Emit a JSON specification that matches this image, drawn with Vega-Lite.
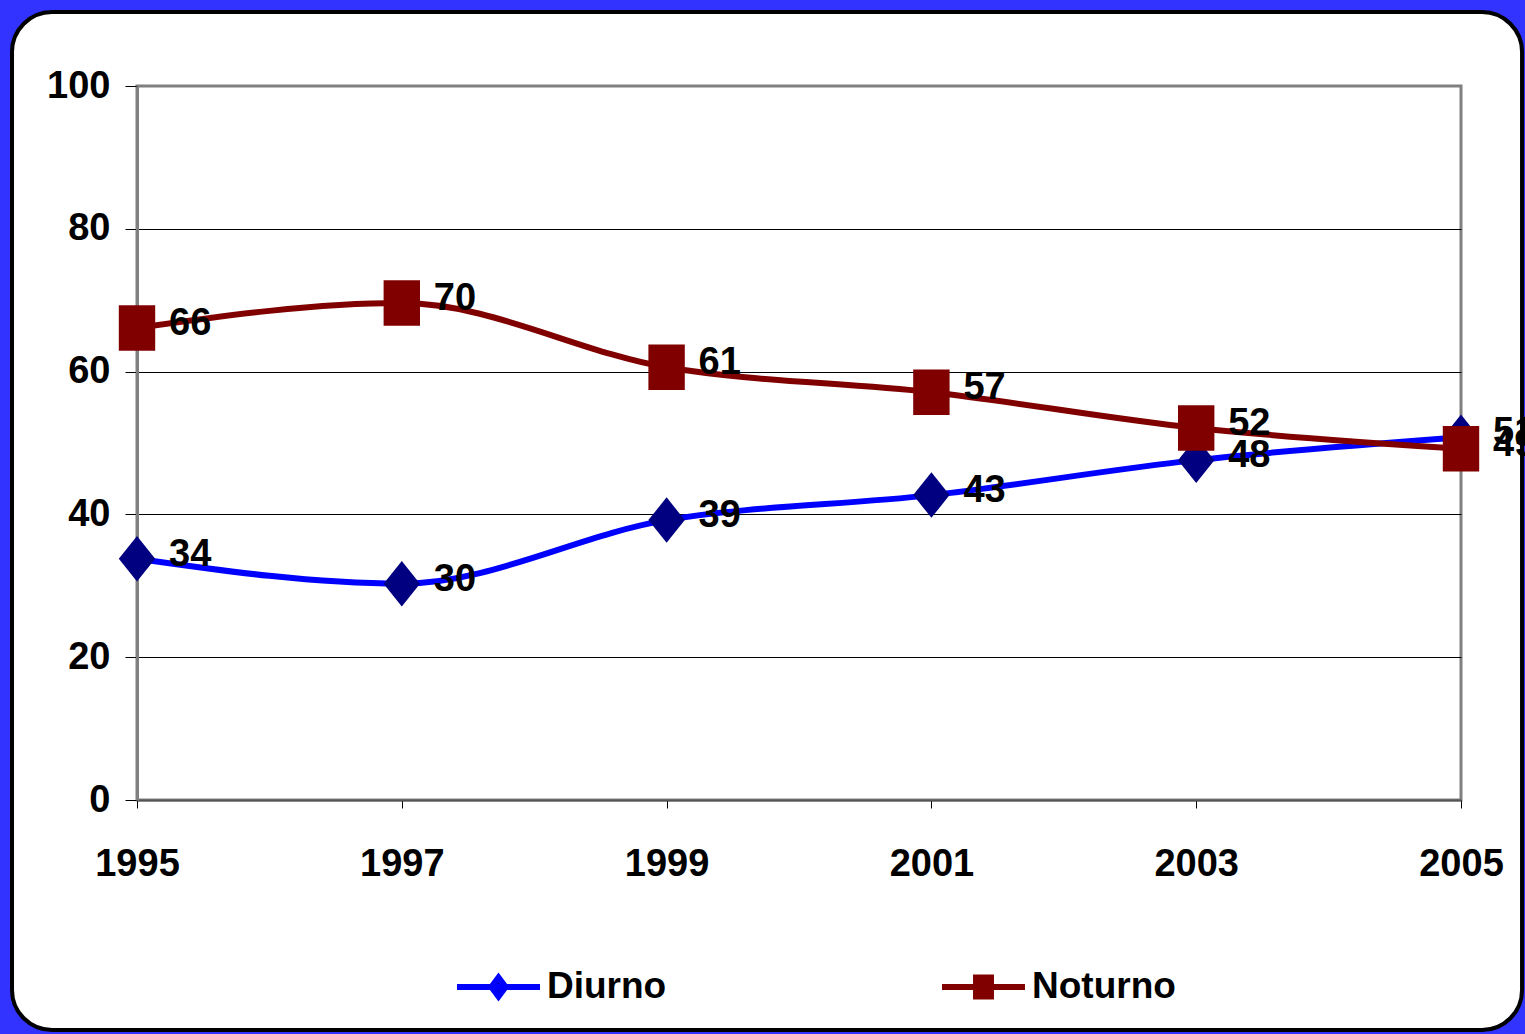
{
  "$schema": "https://vega.github.io/schema/vega-lite/v6.json",
  "width": 1324,
  "height": 714,
  "autosize": {"type": "none"},
  "padding": {"left": 137, "top": 86, "right": 64, "bottom": 234},
  "background": "white",
  "config": {
    "font": "Liberation Sans",
    "view": {"stroke": "#808080", "strokeWidth": 3},
    "axis": {
      "labelFont": "Liberation Sans",
      "labelFontSize": 38,
      "labelFontWeight": "bold",
      "labelColor": "black",
      "tickColor": "black",
      "tickWidth": 1,
      "title": null
    }
  },
  "data": {
    "values": [
      {"ano": 1995, "serie": "Diurno", "v": 33.8},
      {"ano": 1997, "serie": "Diurno", "v": 30.3},
      {"ano": 1999, "serie": "Diurno", "v": 39.2},
      {"ano": 2001, "serie": "Diurno", "v": 42.7},
      {"ano": 2003, "serie": "Diurno", "v": 47.6},
      {"ano": 2005, "serie": "Diurno", "v": 50.8},
      {"ano": 1995, "serie": "Noturno", "v": 66.1},
      {"ano": 1997, "serie": "Noturno", "v": 69.6},
      {"ano": 1999, "serie": "Noturno", "v": 60.6},
      {"ano": 2001, "serie": "Noturno", "v": 57.1},
      {"ano": 2003, "serie": "Noturno", "v": 52.1},
      {"ano": 2005, "serie": "Noturno", "v": 49.2}
    ]
  },
  "layer": [
    {
      "data": {"values": [{}]},
      "mark": {"type": "rect", "filled": false, "stroke": "#3333ff", "strokeWidth": 60, "cornerRadius": 70},
      "encoding": {
        "x": {"datum": 1993.829, "type": "quantitative", "scale": {"domain": [1995, 2005], "nice": false, "zero": false}},
        "x2": {"datum": 2005.687},
        "y": {"datum": 114.57, "type": "quantitative", "scale": {"domain": [0, 100], "nice": false}},
        "y2": {"datum": -36.41}
      }
    },
    {
      "data": {"values": [{}]},
      "mark": {"type": "rect", "filled": false, "stroke": "black", "strokeWidth": 4, "cornerRadius": 40},
      "encoding": {
        "x": {"datum": 1994.056, "type": "quantitative"},
        "x2": {"datum": 2005.461},
        "y": {"datum": 110.36, "type": "quantitative"},
        "y2": {"datum": -32.21}
      }
    },
    {
      "mark": {"type": "line", "interpolate": "monotone", "strokeWidth": 6},
      "encoding": {
        "x": {
          "field": "ano", "type": "quantitative",
          "scale": {"domain": [1995, 2005], "nice": false, "zero": false},
          "axis": {
            "values": [1995, 1997, 1999, 2001, 2003, 2005],
            "format": "d",
            "tickSize": 8,
            "labelPadding": 37,
            "domainColor": "#555555",
            "domainWidth": 2,
            "grid": false,
            "labelFlush": false,
            "labelOverlap": false
          }
        },
        "y": {
          "field": "v", "type": "quantitative",
          "scale": {"domain": [0, 100], "nice": false},
          "axis": {
            "values": [0, 20, 40, 60, 80, 100],
            "tickSize": 12,
            "labelPadding": 15,
            "domainColor": "#808080",
            "domainWidth": 3,
            "grid": true,
            "gridColor": {"condition": {"test": "datum.value === 0 || datum.value === 100", "value": "transparent"}, "value": "black"},
            "gridWidth": 1,
            "labelOverlap": false
          }
        },
        "color": {
          "field": "serie", "type": "nominal",
          "scale": {"domain": ["Diurno", "Noturno"], "range": ["#0000ff", "#800000"]},
          "legend": {
            "orient": "none",
            "legendX": 317,
            "legendY": 856,
            "direction": "horizontal",
            "columns": 2,
            "title": null,
            "symbolSize": 6889,
            "symbolStrokeWidth": 6,
            "symbolOpacity": 1,
            "labelFont": "Liberation Sans",
            "labelFontSize": 37,
            "labelFontWeight": "bold",
            "labelColor": "black",
            "labelOffset": 4,
            "columnPadding": 263,
            "encode": {
              "symbols": {
                "update": {
                  "shape": {"signal": "datum.value === 'Diurno' ? 'M-1,0L1,0M0,-0.23L0.17,0L0,0.23L-0.17,0Z' : 'M-1,0L1,0M-0.18,-0.23L0.18,-0.23L0.18,0.23L-0.18,0.23Z'"},
                  "fill": {"signal": "datum.value === 'Diurno' ? '#000080' : '#800000'"}
                }
              }
            }
          }
        }
      }
    },
    {
      "mark": {"type": "point", "filled": true, "opacity": 1, "strokeWidth": 0, "size": 2070},
      "encoding": {
        "x": {"field": "ano", "type": "quantitative"},
        "y": {"field": "v", "type": "quantitative"},
        "fill": {
          "condition": {"test": "datum.serie === 'Diurno'", "value": "#000080"},
          "value": "#800000"
        },
        "shape": {
          "condition": {"test": "datum.serie === 'Diurno'", "value": "M0,-1L0.8,0L0,1L-0.8,0Z"},
          "value": "M-0.8,-1L0.8,-1L0.8,1L-0.8,1Z"
        }
      }
    },
    {
      "mark": {"type": "text", "align": "left", "baseline": "middle", "dx": 32, "dy": -4, "fontSize": 38, "fontWeight": "bold", "font": "Liberation Sans", "color": "black"},
      "encoding": {
        "x": {"field": "ano", "type": "quantitative"},
        "y": {"field": "v", "type": "quantitative"},
        "text": {"field": "v", "type": "quantitative", "format": ".0f"}
      }
    }
  ]
}
